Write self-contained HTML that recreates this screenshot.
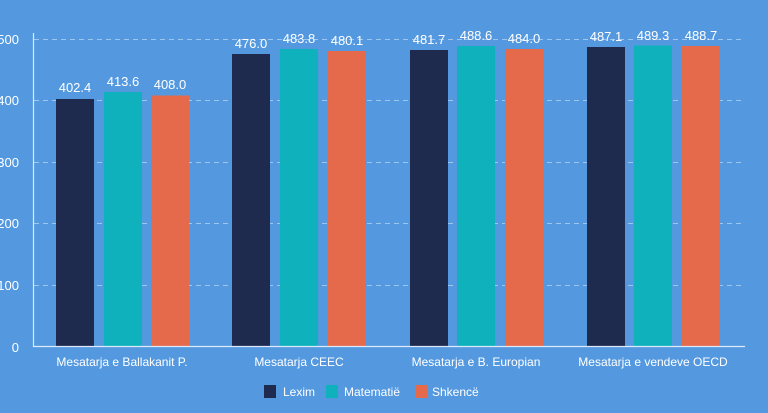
<!DOCTYPE html>
<html><head><meta charset="utf-8"><style>
html,body{margin:0;padding:0;background:#5499e0;width:768px;height:413px;overflow:hidden}
text{font-family:"Liberation Sans",sans-serif;fill:#fff}
</style></head><body>
<svg width="768" height="413" xmlns="http://www.w3.org/2000/svg">
<rect width="768" height="413" fill="#5499e0"/>
<g stroke="#9fc6f0" stroke-dasharray="5,4" stroke-width="1">
<line x1="34" x2="745" y1="39.5" y2="39.5"/>
<line x1="34" x2="745" y1="100.5" y2="100.5"/>
<line x1="34" x2="745" y1="162.5" y2="162.5"/>
<line x1="34" x2="745" y1="223.5" y2="223.5"/>
<line x1="34" x2="745" y1="285.5" y2="285.5"/>
</g>
<g font-size="13" text-anchor="end">
<text x="19" y="44">500</text><text x="19" y="105">400</text><text x="19" y="167">300</text>
<text x="19" y="228">200</text><text x="19" y="290">100</text><text x="19" y="352">0</text>
</g>
<g>
<rect x="56" y="99" width="38" height="247" fill="#1f2a4f"/>
<rect x="104" y="92" width="38" height="254" fill="#0fb2bc"/>
<rect x="151" y="95.5" width="38" height="250.5" fill="#e56a4c"/>
<rect x="232" y="54" width="38" height="292" fill="#1f2a4f"/>
<rect x="280" y="49" width="38" height="297" fill="#0fb2bc"/>
<rect x="328" y="51" width="38" height="295" fill="#e56a4c"/>
<rect x="410" y="50" width="38" height="296" fill="#1f2a4f"/>
<rect x="457" y="46" width="38" height="300" fill="#0fb2bc"/>
<rect x="505" y="49" width="38" height="297" fill="#e56a4c"/>
<rect x="587" y="47" width="38" height="299" fill="#1f2a4f"/>
<rect x="634" y="45.5" width="38" height="300.5" fill="#0fb2bc"/>
<rect x="682" y="46" width="38" height="300" fill="#e56a4c"/>
</g>
<g font-size="13" text-anchor="middle">
<text x="75" y="92">402.4</text><text x="123" y="86">413.6</text><text x="170" y="89">408.0</text>
<text x="251" y="48">476.0</text><text x="299" y="43">483.8</text><text x="347" y="45">480.1</text>
<text x="429" y="44">481.7</text><text x="476" y="40">488.6</text><text x="524" y="43">484.0</text>
<text x="606" y="41">487.1</text><text x="653" y="40">489.3</text><text x="701" y="40">488.7</text>
</g>
<path d="M33.5 33V346.5H745" stroke="#dce9f8" stroke-width="1.2" fill="none"/>
<g font-size="12" text-anchor="middle">
<text x="122" y="366">Mesatarja e Ballakanit P.</text>
<text x="299" y="366">Mesatarja CEEC</text>
<text x="476" y="366">Mesatarja e B. Europian</text>
<text x="653" y="366">Mesatarja e vendeve OECD</text>
</g>
<g font-size="12">
<rect x="264" y="385" width="12" height="13" fill="#1f2a4f"/><text x="283" y="396">Lexim</text>
<rect x="326" y="385" width="12" height="13" fill="#0fb2bc"/><text x="344" y="396">Matematië</text>
<rect x="415" y="385" width="12" height="13" fill="#e56a4c"/><text x="432" y="396">Shkencë</text>
</g>
</svg>
</body></html>
